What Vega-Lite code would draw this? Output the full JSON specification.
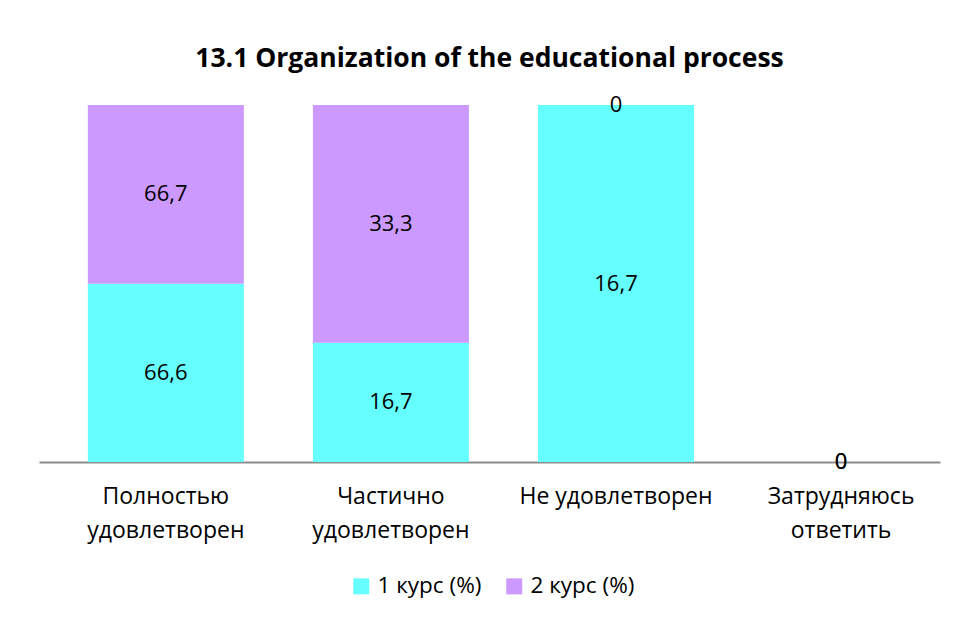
{
  "$schema": "https://vega.github.io/schema/vega-lite/v6.json",
  "width": 901,
  "height": 357,
  "autosize": "none",
  "padding": {"left": 39, "top": 105, "right": 14, "bottom": 157},
  "background": "white",
  "title": {
    "text": "13.1 Organization of the educational process",
    "fontSize": 26.5,
    "font": "Open Sans",
    "fontWeight": "bold",
    "color": "#000000",
    "offset": 22,
    "anchor": "middle"
  },
  "data": {
    "values": [
      {"category": "Полностью удовлетворен", "course": "1 курс (%)", "value": 66.6},
      {"category": "Полностью удовлетворен", "course": "2 курс (%)", "value": 66.7},
      {"category": "Частично удовлетворен", "course": "1 курс (%)", "value": 16.7},
      {"category": "Частично удовлетворен", "course": "2 курс (%)", "value": 33.3},
      {"category": "Не удовлетворен", "course": "1 курс (%)", "value": 16.7},
      {"category": "Не удовлетворен", "course": "2 курс (%)", "value": 0},
      {"category": "Затрудняюсь ответить", "course": "1 курс (%)", "value": 0},
      {"category": "Затрудняюсь ответить", "course": "2 курс (%)", "value": 0}
    ]
  },
  "transform": [
    {"stack": "value", "groupby": ["category"], "sort": [{"field": "course", "order": "ascending"}], "as": ["s0", "s1"]},
    {"joinaggregate": [{"op": "sum", "field": "value", "as": "total"}], "groupby": ["category"]},
    {"calculate": "datum.total > 0 ? datum.s0 / datum.total : 0", "as": "y0"},
    {"calculate": "datum.total > 0 ? datum.s1 / datum.total : 0", "as": "y1"},
    {"calculate": "(datum.y0 + datum.y1) / 2", "as": "ymid"}
  ],
  "encoding": {
    "x": {
      "field": "category",
      "type": "nominal",
      "sort": ["Полностью удовлетворен", "Частично удовлетворен", "Не удовлетворен", "Затрудняюсь ответить"],
      "scale": {"paddingInner": 0.307, "paddingOuter": 0.155, "align": 0.7},
      "axis": {
        "title": null,
        "domain": true,
        "domainColor": "#8c8c8c",
        "domainWidth": 2,
        "ticks": false,
        "labelAngle": 0,
        "labelFont": "Open Sans",
        "labelFontSize": 23,
        "labelColor": "#000000",
        "labelPadding": 23,
        "labelLineHeight": 34,
        "labelLimit": 0,
        "labelExpr": "datum.label == 'Не удовлетворен' ? datum.label : split(datum.label, ' ')"
      }
    }
  },
  "layer": [
    {
      "mark": {"type": "bar"},
      "encoding": {
        "y": {"field": "y0", "type": "quantitative", "scale": {"domain": [0, 1]}, "axis": null},
        "y2": {"field": "y1"},
        "color": {
          "field": "course",
          "type": "nominal",
          "scale": {"domain": ["1 курс (%)", "2 курс (%)"], "range": ["#66FFFF", "#CC99FF"]},
          "legend": {
            "title": null,
            "orient": "none",
            "legendX": 311,
            "legendY": 470,
            "direction": "horizontal",
            "symbolType": "square",
            "symbolSize": 256,
            "symbolStrokeWidth": 0,
            "labelFont": "Open Sans",
            "labelFontSize": 22.5,
            "labelColor": "#000000",
            "labelOffset": 5,
            "columnPadding": 21
          }
        }
      }
    },
    {
      "mark": {"type": "text", "fontSize": 22, "font": "Open Sans", "color": "#000000"},
      "encoding": {
        "y": {"field": "ymid", "type": "quantitative"},
        "text": {"field": "value", "type": "quantitative", "format": ".1~f"}
      }
    }
  ],
  "config": {
    "view": {"stroke": null},
    "locale": {"number": {"decimal": ",", "thousands": " ", "grouping": [3], "currency": ["", ""]}}
  }
}
